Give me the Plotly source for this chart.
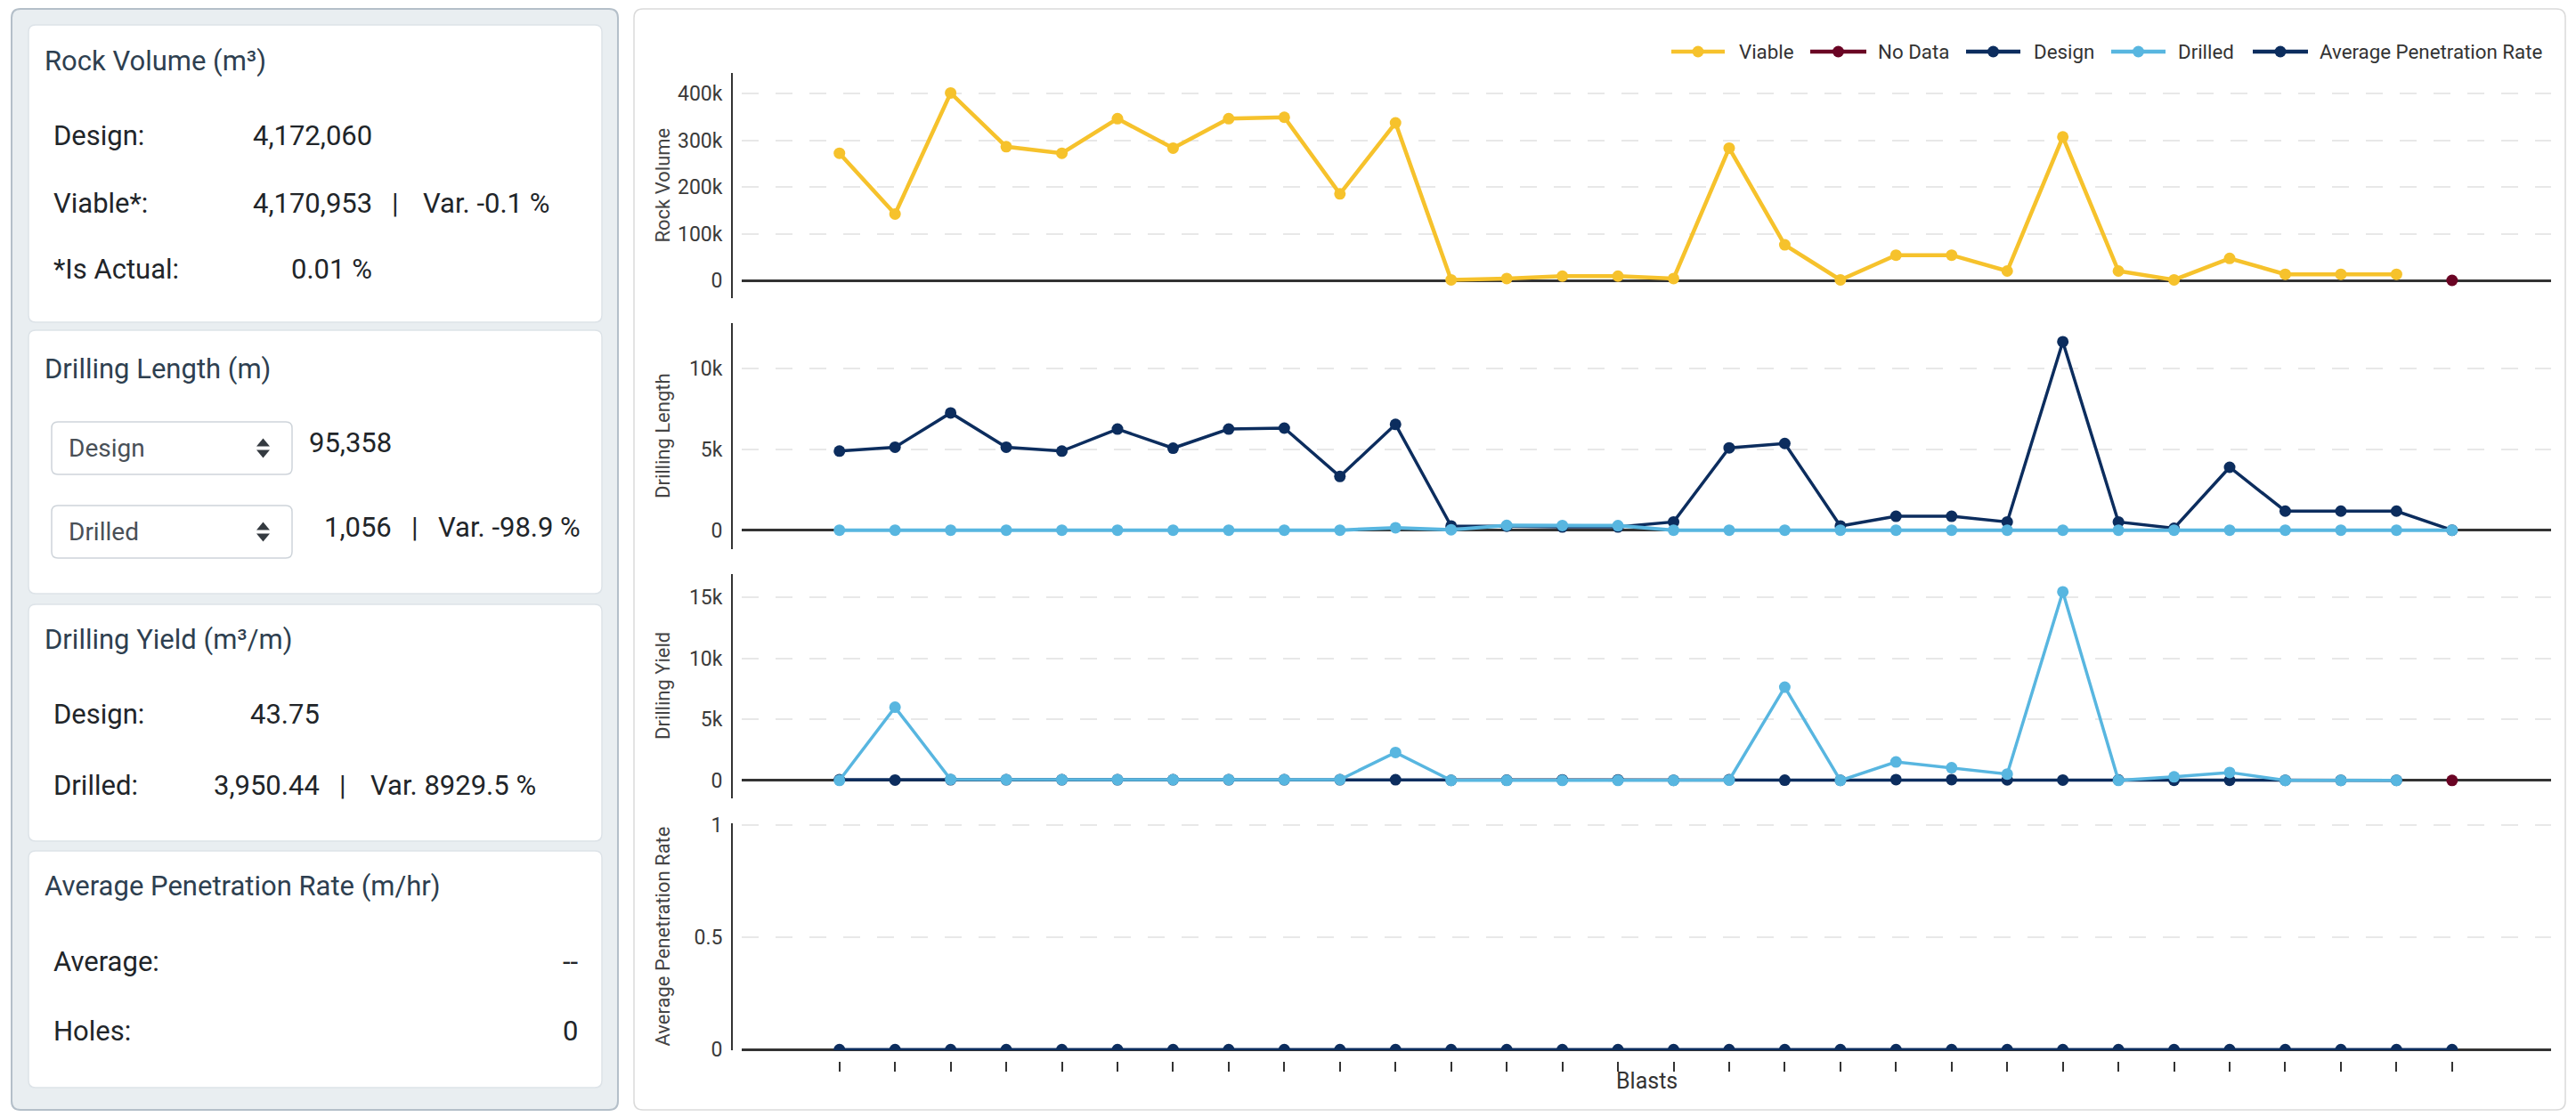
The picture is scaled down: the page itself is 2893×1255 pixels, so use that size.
import plotly.graph_objects as go

W, H = 2893, 1255

# ---------------- data ----------------
blast_index = list(range(30))
viable_index = list(range(29))
viable_volume = [272000, 142000, 401000, 286000, 272000, 346000, 283000, 346000, 349000, 185000,
                 337000, 1000, 4000, 9000, 9000, 4000, 283000, 76000, 1000, 54000,
                 54000, 20000, 307000, 20000, 1000, 47000, 13000, 13000, 13000]
no_data_index = [29]
no_data_value = [0]

design_length = [4890, 5130, 7250, 5130, 4890, 6250, 5070, 6250, 6310, 3320,
                 6540, 260, 250, 200, 200, 510, 5090, 5360, 260, 860,
                 860, 510, 11650, 510, 120, 3890, 1180, 1180, 1180, 0]
drilled_length = [0, 0, 0, 0, 0, 0, 0, 0, 0, 0,
                  150, 30, 300, 290, 280, 0, 0, 0, 0, 0,
                  0, 0, 0, 0, 0, 0, 0, 0, 0, 0]

yield_index = list(range(29))
design_yield = [55.6, 27.7, 55.3, 55.8, 55.6, 55.4, 55.8, 55.4, 55.3, 55.7,
                51.5, 3.8, 16.0, 45.0, 45.0, 7.8, 55.6, 14.2, 3.8, 62.8,
                62.8, 39.0, 26.4, 39.0, 8.0, 12.0, 11.0, 11.0, 11.0]
drilled_yield = [0, 5990, 80, 60, 60, 60, 60, 60, 60, 60,
                 2290, 0, 0, 0, 0, 0, 30, 7630, 0, 1510,
                 1040, 520, 15440, 0, 290, 650, 0, 0, 0]

apr_values = [0, 0, 0, 0, 0, 0, 0, 0, 0, 0,
              0, 0, 0, 0, 0, 0, 0, 0, 0, 0,
              0, 0, 0, 0, 0, 0, 0, 0, 0, 0]

volume_ticks = [0, 100000, 200000, 300000, 400000]
volume_ticktext = ["0", "100k", "200k", "300k", "400k"]
length_ticks = [0, 5000, 10000]
length_ticktext = ["0", "5k", "10k"]
yield_ticks = [0, 5000, 10000, 15000]
yield_ticktext = ["0", "5k", "10k", "15k"]
apr_ticks = [0, 0.5, 1]
apr_ticktext = ["0", "0.5", "1"]

legend_names = ["Viable", "No Data", "Design", "Drilled", "Average Penetration Rate"]
axis_titles = ["Rock Volume", "Drilling Length", "Drilling Yield", "Average Penetration Rate"]

# ---------------- style ----------------
YELLOW = "#f6c22c"
NAVY = "#0c2d5e"
LIGHT = "#58b6e0"
MAROON = "#6a0424"
AX = "#333333"
GRID = "#e8e8e8"
FONT = "Roboto"


def X(v):
    return v / W


def Y(v):
    return 1 - v / H


fig = go.Figure()

mk = dict(size=13, line=dict(width=0))


def add_line(x, y, color, yaxis, width=4):
    fig.add_trace(go.Scatter(x=x, y=y, mode="lines+markers", yaxis=yaxis,
                             line=dict(color=color, width=width),
                             marker=dict(color=color, **mk), showlegend=False,
                             hoverinfo="x+y"))


# Rock volume
add_line(viable_index, viable_volume, YELLOW, "y", 4.5)
add_line(no_data_index, no_data_value, MAROON, "y", 4)
# Drilling length
add_line(blast_index, design_length, NAVY, "y2", 3.5)
add_line(blast_index, drilled_length, LIGHT, "y2", 4)
# Drilling yield
add_line(yield_index, design_yield, NAVY, "y3", 3.5)
add_line(yield_index, drilled_yield, LIGHT, "y3", 3.5)
add_line(no_data_index, no_data_value, MAROON, "y3", 4)
# Average penetration rate
add_line(blast_index, apr_values, NAVY, "y4", 3.5)

# ---------------- axes ----------------
x_left, x_right = 833, 2865
axis_x = 822
tickfont = dict(family=FONT, size=23, color="#3a3a3a")


def yax(top, bottom, rng, tv, tt):
    return dict(domain=[Y(bottom), Y(top)], range=rng, anchor="free", position=X(axis_x),
                showline=True, linecolor=AX, linewidth=2, ticks="", automargin=False,
                tickvals=tv, ticktext=tt, tickfont=tickfont, ticklabelstandoff=5,
                showgrid=True, gridcolor=GRID, gridwidth=2, griddash="19px,19px",
                zeroline=True, zerolinecolor=AX, zerolinewidth=2.5, fixedrange=True)


layout = dict(
    width=W, height=H, autosize=False,
    margin=dict(l=0, r=0, t=0, b=0, pad=0, autoexpand=False),
    paper_bgcolor="white", plot_bgcolor="rgba(0,0,0,0)",
    font=dict(family=FONT, color="#333"),
    showlegend=False,
    xaxis=dict(domain=[X(x_left), X(x_right)], range=[-1.757, 30.78], anchor="free",
               position=Y(1192), side="bottom", ticks="outside", ticklen=11, tickwidth=2,
               tickcolor=AX, tickvals=blast_index, showticklabels=False, showgrid=False,
               zeroline=False, showline=False, fixedrange=True, automargin=False),
    yaxis=yax(82, 335, [-38100, 443800], volume_ticks, volume_ticktext),
    yaxis2=yax(363, 617, [-1172, 12800], length_ticks, length_ticktext),
    yaxis3=yax(645, 897, [-1472, 16895], yield_ticks, yield_ticktext),
    yaxis4=yax(925, 1180, [-0.003, 1.007], apr_ticks, apr_ticktext),
)
fig.update_layout(**layout)

shapes = []
annotations = []


def rrect(x0, y0, x1, y1, r, fill, line, lw=1.5):
    p = (f"M {X(x0 + r)},{Y(y0)} L {X(x1 - r)},{Y(y0)} Q {X(x1)},{Y(y0)} {X(x1)},{Y(y0 + r)} "
         f"L {X(x1)},{Y(y1 - r)} Q {X(x1)},{Y(y1)} {X(x1 - r)},{Y(y1)} "
         f"L {X(x0 + r)},{Y(y1)} Q {X(x0)},{Y(y1)} {X(x0)},{Y(y1 - r)} "
         f"L {X(x0)},{Y(y0 + r)} Q {X(x0)},{Y(y0)} {X(x0 + r)},{Y(y0)} Z")
    shapes.append(dict(type="path", path=p, xref="paper", yref="paper", fillcolor=fill,
                       line=dict(color=line, width=lw), layer="below"))


def text(x, y, s, size=31, color="#212529", anchor="left", angle=0, family=FONT):
    annotations.append(dict(x=X(x), y=Y(y), xref="paper", yref="paper", text=s,
                            showarrow=False, xanchor=anchor, yanchor="middle",
                            textangle=angle, font=dict(family=family, size=size, color=color)))


# ---------------- left summary panel ----------------
rrect(13, 10, 694, 1247, 10, "#e9eef1", "#b4bfc9", 2)
cards = [(28, 362), (371, 667), (679, 945), (956, 1222)]
for (t, b) in cards:
    rrect(32, t, 676, b, 8, "white", "#dde3e8", 1.5)

TITLE = "#2e3f50"
text(48, 68, "Rock Volume (m³)", color=TITLE)
text(58, 153, "Design:")
text(420, 153, "4,172,060", anchor="right")
text(58, 228, "Viable*:")
text(420, 228, "4,170,953", anchor="right")
text(444, 228, "|", anchor="center")
text(473, 228, "Var. -0.1 %")
text(58, 303, "*Is Actual:")
text(420, 303, "0.01 %", anchor="right")

text(48, 414, "Drilling Length (m)", color=TITLE)
for (t, b, lab) in [(474, 533, "Design"), (568, 627, "Drilled")]:
    rrect(58, t, 328, b, 7, "white", "#ced4da", 1.5)
    mid = (t + b) / 2
    text(75, mid, lab, size=28, color="#495057")
    shapes.append(dict(type="path", xref="paper", yref="paper", fillcolor="#343a40",
                       line=dict(width=0),
                       path=f"M {X(288)},{Y(mid - 2)} L {X(303)},{Y(mid - 2)} L {X(295.5)},{Y(mid - 11)} Z"))
    shapes.append(dict(type="path", xref="paper", yref="paper", fillcolor="#343a40",
                       line=dict(width=0),
                       path=f"M {X(288)},{Y(mid + 2)} L {X(303)},{Y(mid + 2)} L {X(295.5)},{Y(mid + 11)} Z"))
text(442, 497, "95,358", anchor="right")
text(442, 592, "1,056", anchor="right")
text(466, 592, "|", anchor="center")
text(490, 592, "Var. -98.9 %")

text(48, 718, "Drilling Yield (m³/m)", color=TITLE)
text(58, 802, "Design:")
text(361, 802, "43.75", anchor="right")
text(58, 882, "Drilled:")
text(361, 882, "3,950.44", anchor="right")
text(385, 882, "|", anchor="center")
text(414, 882, "Var. 8929.5 %")

text(48, 995, "Average Penetration Rate (m/hr)", color=TITLE)
text(58, 1080, "Average:")
text(651, 1080, "--", anchor="right")
text(58, 1158, "Holes:")
text(651, 1158, "0", anchor="right")

# ---------------- right chart card ----------------
rrect(712, 10, 2881, 1247, 10, "rgba(0,0,0,0)", "#dadada", 1.5)

# y-axis titles
for (title, top, bottom) in zip(axis_titles, [82, 363, 645, 925], [335, 617, 897, 1180]):
    text(744, (top + bottom) / 2, title, size=22, color="#444", anchor="center", angle=-90)

# x-axis title
text(1849, 1214, "Blasts", size=25, color="#333", anchor="center")

# legend
legend_colors = [YELLOW, MAROON, NAVY, LIGHT, NAVY]
legend_lines = [(1877, 1937), (2033, 2096), (2208, 2269), (2371, 2432), (2530, 2592)]
legend_text_x = [1951, 2107, 2282, 2444, 2603]
ly = 58
for name, col, (a, b), tx in zip(legend_names, legend_colors, legend_lines, legend_text_x):
    shapes.append(dict(type="line", xref="paper", yref="paper", x0=X(a), x1=X(b), y0=Y(ly), y1=Y(ly),
                       line=dict(color=col, width=4.5)))
    c = (a + b) / 2
    shapes.append(dict(type="circle", xref="paper", yref="paper", x0=X(c - 6.5), x1=X(c + 6.5),
                       y0=Y(ly + 6.5), y1=Y(ly - 6.5), fillcolor=col, line=dict(width=0)))
    text(tx, ly, name, size=22.3, color="#333")

fig.update_layout(shapes=shapes, annotations=annotations)

fig.write_html("out.html", config={"displayModeBar": False},
               post_script="document.documentElement.style.margin='0';"
                           "document.documentElement.style.overflow='hidden';"
                           "document.body.style.margin='0';document.body.style.padding='0';"
                           "document.body.style.overflow='hidden';")
